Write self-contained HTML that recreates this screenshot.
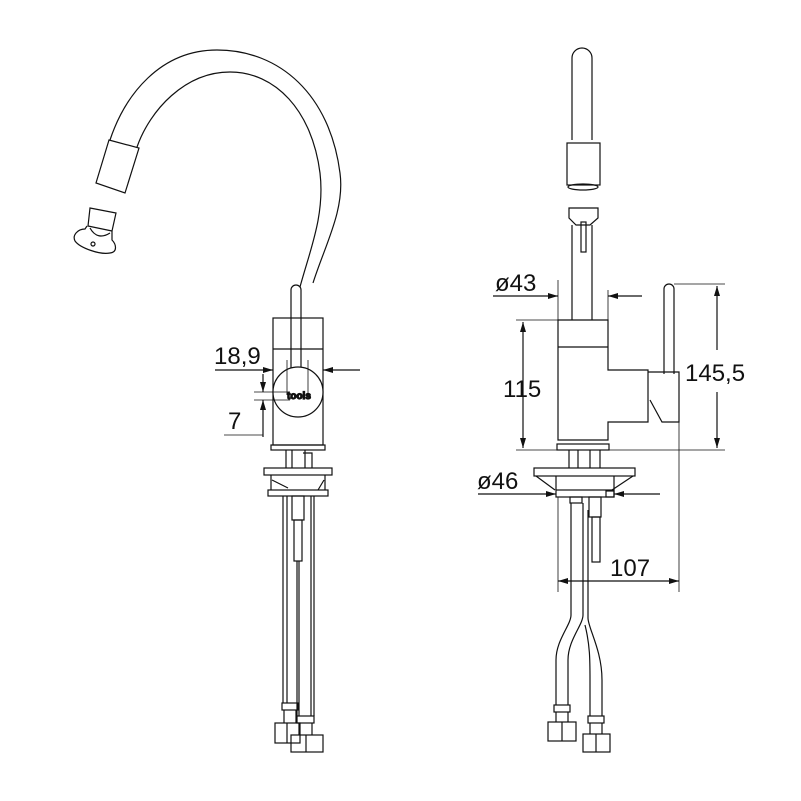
<!DOCTYPE html>
<html><head><meta charset="utf-8"><style>
html,body{margin:0;padding:0;background:#fff}
svg{display:block}
text{font-family:"Liberation Sans",sans-serif;font-size:24px;fill:#111}
</style></head><body>
<svg width="801" height="801" viewBox="0 0 801 801" xmlns="http://www.w3.org/2000/svg">
<defs>
<marker id="ar" viewBox="0 0 10 6" refX="10" refY="3" markerWidth="10" markerHeight="6" orient="auto" markerUnits="userSpaceOnUse"><path d="M0,0 L10,3 L0,6 z" fill="#111"/></marker>
</defs>
<g fill="none" stroke="#111" stroke-width="1.2">
<path d="M300,287 C310,250 325,215 320,173 C312,110 275,72 230,72 C185,72 150,110 137,147"/>
<path d="M313,283 C325,245 345,210 340,173 C330,95 280,50 217,50 C160,50 125,95 110,140"/>
<path d="M109,140 L139,148 L125,193 L96,183 Z"/>
<path d="M90,208 L116,213 L112,231 L88,226 Z"/>
<path d="M87,226 L85,229 C78,229 72,235 75,241 C80,248 100,255 110,253 C118,252 116,244 112,240 L112,231"/>
<path d="M90,228 C95,237 102,238 110,233"/>
<circle cx="93" cy="244" r="2"/>
<path d="M291,370 V290 A5,5 0 0 1 301,290 V370"/>
<rect x="273" y="318" width="50" height="127"/>
<line x1="273" y1="349" x2="323" y2="349"/>
<circle cx="298" cy="392" r="25" fill="#fff"/>
<text x="287" y="399" style="font-size:10px;font-weight:bold">tools</text>
<rect x="271" y="445" width="54" height="5"/>
<path d="M286,450 V468 M292,450 V468 M305,450 V468 M303,453 H312 V468"/>
<rect x="264" y="468" width="68" height="7"/>
<path d="M271,475 V490 M325,475 V490 M272,480 L288,488 M324,480 L318,490"/>
<rect x="268" y="490" width="60" height="6"/>
<rect x="292" y="496" width="12" height="24"/>
<rect x="294" y="520" width="8" height="41"/>
<path d="M283,496 V703 M287,496 V703 M297,561 V716 M299,561 V716 M311,496 V716 M314,496 V716"/>
<rect x="282" y="703" width="16" height="7"/>
<path d="M284,710 V723 M296,710 V723"/>
<rect x="275" y="723" width="25" height="20"/>
<line x1="287" y1="723" x2="287" y2="743"/>
<rect x="297" y="716" width="17" height="7"/>
<path d="M299,723 V735 M312,723 V735"/>
<rect x="291" y="735" width="32" height="17"/>
<line x1="306" y1="735" x2="306" y2="752"/>
<line x1="215" y1="370" x2="273" y2="370" marker-end="url(#ar)"/>
<line x1="360" y1="370" x2="323" y2="370" marker-end="url(#ar)"/>
<path d="M287,360 V395 M308,360 V395" stroke-width="0.8"/>
<line x1="263" y1="374" x2="263" y2="392" marker-end="url(#ar)"/>
<line x1="263" y1="437" x2="263" y2="400" marker-end="url(#ar)"/>
<path d="M254,392 H290 M254,400 H290 M224,435 H263" stroke-width="0.8"/>
<path d="M572,140 V58 A10,10 0 0 1 592,58 V140"/>
<rect x="567" y="143" width="33" height="42"/>
<ellipse cx="583" cy="187" rx="15" ry="3"/>
<path d="M569,208 H598 V218 L590,225 H576 L569,218 Z"/>
<rect x="581" y="222" width="5" height="30"/>
<path d="M572,225 V320 M592,225 V320"/>
<path d="M558,320 H608 V370 H648 V422 H608 V440 H558 Z"/>
<line x1="558" y1="347" x2="608" y2="347"/>
<path d="M648,372 H679 V422 H662 L650,400"/>
<path d="M664,374 V289 A5,5 0 0 1 674,289 V374"/>
<rect x="557" y="444" width="52" height="6"/>
<path d="M569,450 V468 M578,450 V468 M590,450 V468 M600,450 V468"/>
<rect x="534" y="468" width="101" height="8"/>
<path d="M556,476 V490 M614,476 V490 M536,476 L555,490 M633,476 L612,490"/>
<rect x="556" y="490" width="58" height="7"/>
<rect x="570" y="497" width="12" height="6"/>
<rect x="589" y="497" width="12" height="20"/>
<rect x="592" y="517" width="8" height="45"/>
<rect x="606" y="491" width="8" height="6"/>
<path d="M571,503 V615 C571,625 556,640 556,660 V705 M583,503 V615 C583,625 568,640 568,660 V705"/>
<path d="M585,625 C590,645 590,660 590,680 V716 M588,510 V618 C588,628 602,650 602,680 V716"/>
<rect x="554" y="705" width="16" height="7"/>
<path d="M556,712 V722 M568,712 V722"/>
<rect x="548" y="722" width="28" height="19"/>
<line x1="562" y1="722" x2="562" y2="741"/>
<rect x="588" y="716" width="16" height="7"/>
<path d="M590,723 V734 M602,723 V734"/>
<rect x="583" y="734" width="27" height="18"/>
<line x1="596" y1="734" x2="596" y2="752"/>
<line x1="493" y1="296" x2="558" y2="296" marker-end="url(#ar)"/>
<line x1="642" y1="296" x2="608" y2="296" marker-end="url(#ar)"/>
<path d="M558,280 V320 M608,290 V320" stroke-width="0.8"/>
<line x1="523" y1="385" x2="523" y2="322" marker-end="url(#ar)"/>
<line x1="523" y1="385" x2="523" y2="448" marker-end="url(#ar)"/>
<path d="M516,320 H558 M516,450 H725 M674,284 H725" stroke-width="0.8"/>
<line x1="717" y1="350" x2="717" y2="286" marker-end="url(#ar)"/>
<line x1="717" y1="392" x2="717" y2="448" marker-end="url(#ar)"/>
<line x1="478" y1="494" x2="556" y2="494" marker-end="url(#ar)"/>
<line x1="660" y1="494" x2="614" y2="494" marker-end="url(#ar)"/>
<line x1="620" y1="581" x2="558" y2="581" marker-end="url(#ar)"/>
<line x1="620" y1="581" x2="679" y2="581" marker-end="url(#ar)"/>
<path d="M558,497 V592 M679,420 V592" stroke-width="0.8"/>
</g>
<text x="214" y="364">18,9</text>
<text x="228" y="429">7</text>
<text x="495" y="291">ø43</text>
<text x="503" y="397">115</text>
<text x="685" y="381">145,5</text>
<text x="477" y="489">ø46</text>
<text x="610" y="576">107</text>
</svg>
</body></html>
